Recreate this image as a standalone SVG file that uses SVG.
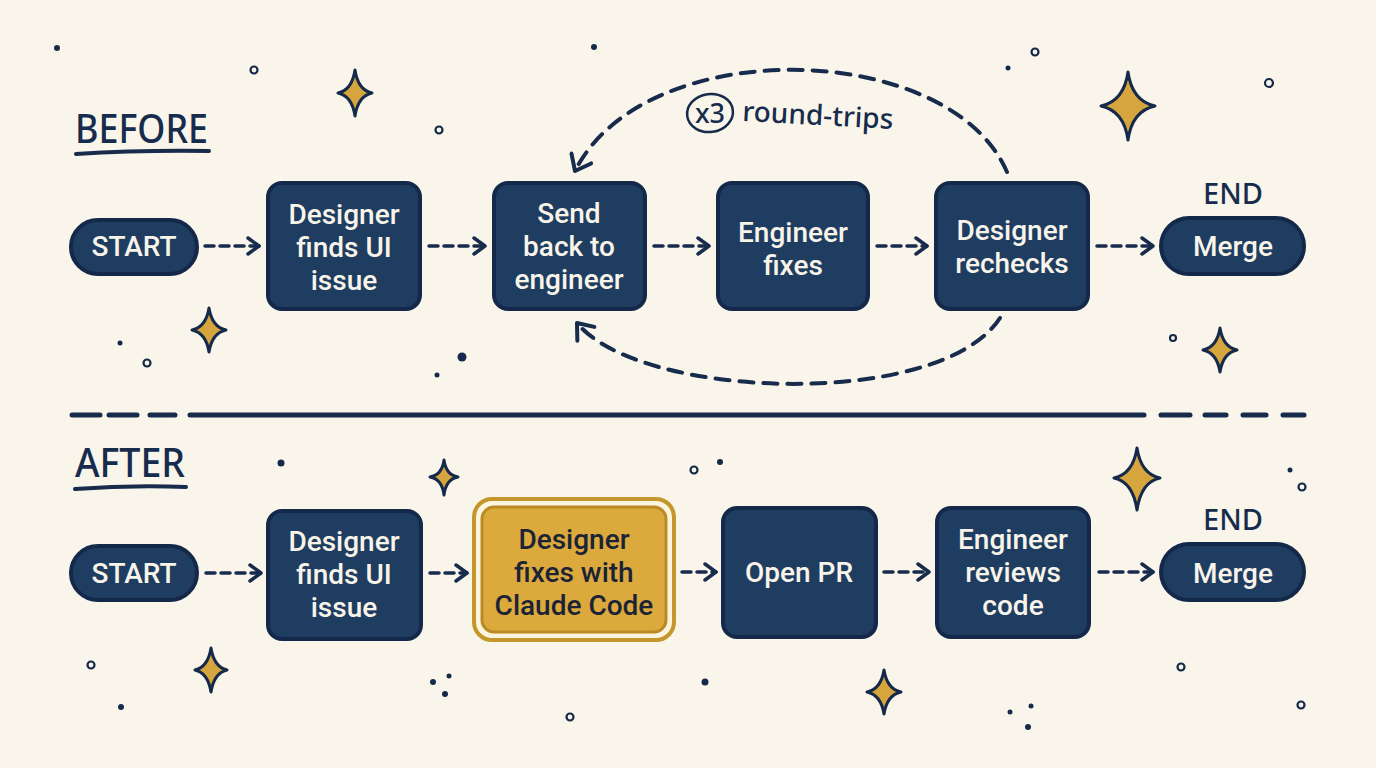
<svg xmlns="http://www.w3.org/2000/svg" width="1376" height="768" viewBox="0 0 1376 768">
<defs>
<style>
.box{fill:#1f3d60;stroke:#14284a;stroke-width:4}
.t{font-family:Roboto,"Noto Sans","DejaVu Sans",sans-serif;font-size:28px;font-weight:500;fill:#f8f4ea;text-anchor:middle}
.td{font-family:Roboto,"Noto Sans","DejaVu Sans",sans-serif;font-size:28px;font-weight:500;fill:#1b2336;text-anchor:middle}
.lbl{font-family:"Noto Sans","Open Sans","DejaVu Sans",sans-serif;font-weight:500;fill:#172b4c}
.conn{fill:none;stroke:#172b4c;stroke-width:3.5;stroke-dasharray:9 6;stroke-linecap:round}
.arc{fill:none;stroke:#172b4c;stroke-width:4;stroke-dasharray:14 10;stroke-linecap:round}
.star{fill:#d6a53e;stroke:#15294a;stroke-width:3;stroke-linejoin:round}
.dot{fill:#15294a}
.ring{fill:none;stroke:#15294a;stroke-width:2.2}
</style>
<marker id="chev" viewBox="0 0 16 20" refX="14" refY="10" markerWidth="16" markerHeight="20" orient="auto" markerUnits="userSpaceOnUse">
<path d="M3,2 L14,10 L3,18" fill="none" stroke="#172b4c" stroke-width="3.5" stroke-linecap="round" stroke-linejoin="round"/>
</marker>
<marker id="chevL" viewBox="0 0 20 26" refX="17" refY="13" markerWidth="20" markerHeight="26" orient="auto" markerUnits="userSpaceOnUse">
<path d="M3,2 L17,13 L3,24" fill="none" stroke="#172b4c" stroke-width="4" stroke-linecap="round" stroke-linejoin="round"/>
</marker>
</defs>
<rect width="1376" height="768" fill="#f9f5ea"/>

<!-- decorations -->
<g id="decor">
<path class="star" d="M355,70 Q358,90 372,93 Q358,96 355,116 Q352,96 338,93 Q352,90 355,70 Z"/>
<path class="star" d="M1128,72 Q1132,101 1155,106 Q1132,111 1128,140 Q1124,111 1101,106 Q1124,101 1128,72 Z"/>
<path class="star" d="M209,308 Q212,327 226,330 Q212,333 209,352 Q206,333 192,330 Q206,327 209,308 Z"/>
<path class="star" d="M1220,328 Q1223,347 1237,350 Q1223,353 1220,372 Q1217,353 1203,350 Q1217,347 1220,328 Z"/>
<path class="star" d="M444,460 Q446,475 458,477 Q446,479 444,495 Q442,479 430,477 Q442,475 444,460 Z"/>
<path class="star" d="M1137,448 Q1141,474 1160,478 Q1141,482 1137,510 Q1133,482 1114,478 Q1133,474 1137,448 Z"/>
<path class="star" d="M211,648 Q214,667 227,670 Q214,673 211,692 Q208,673 195,670 Q208,667 211,648 Z"/>
<path class="star" d="M884,670 Q887,689 901,692 Q887,695 884,714 Q881,695 867,692 Q881,689 884,670 Z"/>
<circle class="dot" cx="57" cy="48" r="3"/>
<circle class="ring" cx="254" cy="70" r="3.5"/>
<circle class="dot" cx="594" cy="47" r="3"/>
<circle class="ring" cx="1035" cy="52" r="3.5"/>
<circle class="dot" cx="1008" cy="68" r="2.5"/>
<circle class="ring" cx="1269" cy="83" r="4"/>
<circle class="ring" cx="439" cy="130" r="3.5"/>
<circle class="dot" cx="120" cy="343" r="2.5"/>
<circle class="ring" cx="147" cy="363" r="3.5"/>
<circle class="dot" cx="462" cy="357" r="4.5"/>
<circle class="dot" cx="437" cy="375" r="2.5"/>
<circle class="ring" cx="1173" cy="338" r="3"/>
<circle class="dot" cx="281" cy="463" r="3.5"/>
<circle class="ring" cx="694" cy="470" r="3.5"/>
<circle class="dot" cx="720" cy="462" r="3"/>
<circle class="dot" cx="1290" cy="470" r="2.5"/>
<circle class="ring" cx="1302" cy="487" r="3.5"/>
<circle class="ring" cx="91" cy="665" r="3.5"/>
<circle class="dot" cx="121" cy="707" r="3"/>
<circle class="dot" cx="433" cy="682" r="3"/>
<circle class="dot" cx="449" cy="676" r="2.5"/>
<circle class="dot" cx="445" cy="694" r="3"/>
<circle class="ring" cx="570" cy="717" r="3.5"/>
<circle class="dot" cx="705" cy="682" r="3.5"/>
<circle class="ring" cx="1181" cy="667" r="3.5"/>
<circle class="ring" cx="1301" cy="705" r="3.5"/>
<circle class="dot" cx="1010" cy="712" r="2.5"/>
<circle class="dot" cx="1031" cy="706" r="2.5"/>
<circle class="dot" cx="1028" cy="727" r="3"/>
</g>

<!-- section titles and divider -->
<g id="before-title">
<text class="lbl" x="75" y="143" font-size="40" textLength="133" lengthAdjust="spacingAndGlyphs">BEFORE</text>
<path d="M76,154 Q140,150 209,151" fill="none" stroke="#172b4c" stroke-width="4" stroke-linecap="round"/>
</g>
<g id="after-title">
<text class="lbl" x="75" y="477" font-size="40" textLength="110" lengthAdjust="spacingAndGlyphs">AFTER</text>
<path d="M75,489 Q130,485 186,487" fill="none" stroke="#172b4c" stroke-width="4" stroke-linecap="round"/>
</g>
<g id="divider" stroke="#172b4c" stroke-width="5" stroke-linecap="round">
<line x1="72" y1="415" x2="100" y2="415"/>
<line x1="109" y1="415" x2="137" y2="415"/>
<line x1="150" y1="415" x2="175" y2="415"/>
<line x1="190" y1="415" x2="1144" y2="415"/>
<line x1="1161" y1="415" x2="1190" y2="415"/>
<line x1="1205" y1="415" x2="1226" y2="415"/>
<line x1="1243" y1="415" x2="1266" y2="415"/>
<line x1="1283" y1="415" x2="1304" y2="415"/>
</g>

<!-- connectors -->
<g id="connectors">
<line class="conn" x1="205" y1="246" x2="259" y2="246" marker-end="url(#chev)"/>
<line class="conn" x1="429" y1="246" x2="485" y2="246" marker-end="url(#chev)"/>
<line class="conn" x1="654" y1="246" x2="709" y2="246" marker-end="url(#chev)"/>
<line class="conn" x1="877" y1="246" x2="927" y2="246" marker-end="url(#chev)"/>
<line class="conn" x1="1097" y1="246" x2="1153" y2="246" marker-end="url(#chev)"/>
<path class="arc" d="M1007,172 C950,40 645,32 575,171" marker-end="url(#chevL)"/>
<path class="arc" d="M1000,318 C940,410 640,400 577,323" marker-end="url(#chevL)"/>
<line class="conn" x1="206" y1="573" x2="261" y2="573" marker-end="url(#chev)"/>
<line class="conn" x1="430" y1="573" x2="467" y2="573" marker-end="url(#chev)"/>
<line class="conn" x1="682" y1="572" x2="716" y2="572" marker-end="url(#chev)"/>
<line class="conn" x1="884" y1="572" x2="929" y2="572" marker-end="url(#chev)"/>
<line class="conn" x1="1099" y1="572" x2="1153" y2="572" marker-end="url(#chev)"/>
</g>
<g id="roundtrip-label">
<ellipse cx="710" cy="113" rx="23" ry="19" fill="none" stroke="#172b4c" stroke-width="2.5" transform="rotate(-8 710 113)"/>
<text class="lbl" x="710" y="123" font-size="27" text-anchor="middle">x3</text>
<text class="lbl" x="742" y="121" font-size="28" transform="rotate(3 742 121)">round-trips</text>
</g>

<!-- BEFORE row -->
<g id="b-start">
<rect class="box" x="71" y="220" width="126" height="54" rx="27"/>
<text class="t" x="134" y="256">START</text>
</g>
<g id="b-find">
<rect class="box" x="268" y="183" width="152" height="126" rx="14"/>
<text class="t" x="344" y="224">Designer</text>
<text class="t" x="344" y="257">finds UI</text>
<text class="t" x="344" y="290">issue</text>
</g>
<g id="b-send">
<rect class="box" x="494" y="183" width="151" height="126" rx="14"/>
<text class="t" x="569" y="223">Send</text>
<text class="t" x="569" y="256">back to</text>
<text class="t" x="569" y="289">engineer</text>
</g>
<g id="b-fix">
<rect class="box" x="718" y="183" width="150" height="126" rx="14"/>
<text class="t" x="793" y="242">Engineer</text>
<text class="t" x="793" y="275">fixes</text>
</g>
<g id="b-recheck">
<rect class="box" x="936" y="183" width="152" height="126" rx="14"/>
<text class="t" x="1012" y="240">Designer</text>
<text class="t" x="1012" y="273">rechecks</text>
</g>
<g id="b-end">
<text class="lbl" x="1233" y="204" font-size="29" text-anchor="middle">END</text>
<rect class="box" x="1161" y="218" width="143" height="56" rx="28"/>
<text class="t" x="1233" y="256">Merge</text>
</g>

<!-- AFTER row -->
<g id="a-start">
<rect class="box" x="71" y="546" width="126" height="54" rx="27"/>
<text class="t" x="134" y="583">START</text>
</g>
<g id="a-find">
<rect class="box" x="268" y="511" width="153" height="128" rx="14"/>
<text class="t" x="344" y="551">Designer</text>
<text class="t" x="344" y="584">finds UI</text>
<text class="t" x="344" y="617">issue</text>
</g>
<g id="a-claude">
<rect x="474" y="499" width="200" height="141" rx="18" fill="#fbf4df" stroke="#c4962c" stroke-width="4"/>
<rect x="482" y="507" width="184" height="125" rx="12" fill="#dcaa3c" stroke="#b98a25" stroke-width="3"/>
<text class="td" x="574" y="549">Designer</text>
<text class="td" x="574" y="582">fixes with</text>
<text class="td" x="574" y="615">Claude Code</text>
</g>
<g id="a-pr">
<rect class="box" x="723" y="508" width="153" height="129" rx="14"/>
<text class="t" x="799" y="582">Open PR</text>
</g>
<g id="a-review">
<rect class="box" x="937" y="508" width="152" height="129" rx="14"/>
<text class="t" x="1013" y="549">Engineer</text>
<text class="t" x="1013" y="582">reviews</text>
<text class="t" x="1013" y="615">code</text>
</g>
<g id="a-end">
<text class="lbl" x="1233" y="530" font-size="29" text-anchor="middle">END</text>
<rect class="box" x="1161" y="544" width="143" height="56" rx="28"/>
<text class="t" x="1233" y="583">Merge</text>
</g>
</svg>
